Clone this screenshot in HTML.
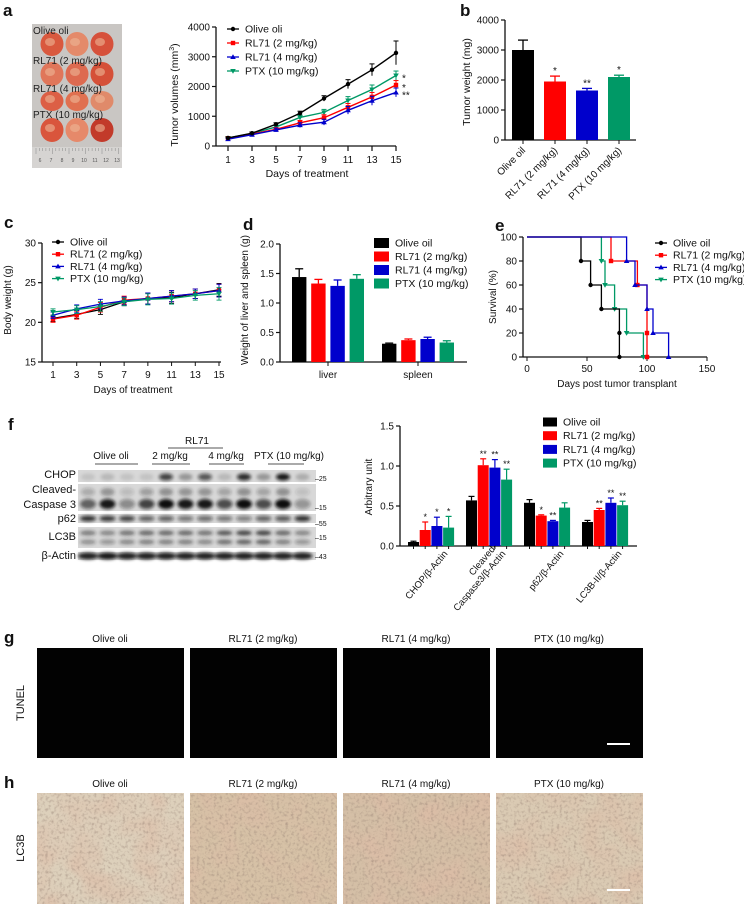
<!DOCTYPE html>
<html><head><meta charset="utf-8">
<style>
html,body{margin:0;padding:0;background:#fff;}
svg{display:block;font-family:"Liberation Sans",Arial,sans-serif;}
</style></head>
<body>
<svg id="fig" width="744" height="905" viewBox="0 0 744 905" xmlns="http://www.w3.org/2000/svg">
<defs>
<filter id="blur1" x="-20%" y="-50%" width="140%" height="200%"><feGaussianBlur stdDeviation="1.6"/></filter>
<filter id="tex" x="0" y="0" width="100%" height="100%">
<feTurbulence type="fractalNoise" baseFrequency="0.35" numOctaves="2" seed="4" result="n"/>
<feColorMatrix in="n" type="matrix" values="0 0 0 0 0.35  0 0 0 0 0.25  0 0 0 0 0.2  0 0 0 1.6 -0.75" result="dots"/>
<feTurbulence type="fractalNoise" baseFrequency="0.03" numOctaves="2" seed="9" result="m"/>
<feColorMatrix in="m" type="matrix" values="0 0 0 0 0.72  0 0 0 0 0.5  0 0 0 0 0.38  0 0 0 1.8 -0.7" result="patch"/>
<feMerge><feMergeNode in="SourceGraphic"/><feMergeNode in="patch"/><feMergeNode in="dots"/></feMerge>
</filter>
</defs>
<g id="root"></g>
</svg>
<script>
// ---------- DATA ----------
const groups = ["Olive oli","RL71 (2 mg/kg)","RL71 (4 mg/kg)","PTX (10 mg/kg)"];
const colors = ["#000000","#ff0000","#0000cc","#009966"];
// panel a
const aDays = [1,3,5,7,9,11,13,15];
const aOlive = [270,430,730,1100,1600,2080,2560,3130];
const aRL2 = [260,400,560,780,950,1300,1650,2050];
const aRL4 = [230,380,540,700,800,1200,1520,1800];
const aPTX = [270,420,640,960,1130,1530,1900,2370];
const aErrOlive = [30,40,50,70,90,150,200,400];
const aErrOther = [30,40,60,80,100,130,150,150];
const aYTicks = [0,1000,2000,3000,4000];
const aStars = ["*","*","**"];
// panel b
const bLabels = ["Olive oil","RL71 (2 mg/kg)","RL71 (4 mg/kg)","PTX (10 mg/kg)"];
const bValues = [3000,1950,1650,2100];
const bErr = [330,180,70,60];
const bStars = ["","*","**","*"];
const bYTicks = [0,1000,2000,3000,4000];
// panel c
const cDays = [1,3,5,7,9,11,13,15];
const cOlive = [20.5,21.0,21.6,22.6,23.0,23.1,23.6,24.1];
const cRL2 = [20.4,20.9,21.9,22.8,23.0,23.3,23.6,24.0];
const cRL4 = [20.9,21.7,22.3,22.7,23.0,23.3,23.6,24.0];
const cPTX = [21.3,21.6,22.0,22.6,22.9,23.0,23.4,23.6];
const cErr = [0.4,0.5,0.6,0.5,0.7,0.7,0.6,0.8];
const cYTicks = [15,20,25,30];
const cLegend = ["Olive oil","RL71 (2 mg/kg)","RL71 (4 mg/kg)","PTX (10 mg/kg)"];
// panel d
const dCats = ["liver","spleen"];
const dLiver = [1.44,1.33,1.29,1.41];
const dLiverErr = [0.14,0.07,0.10,0.07];
const dSpleen = [0.31,0.37,0.39,0.33];
const dSpleenErr = [0.01,0.02,0.03,0.03];
const dYTicks = [0.0,0.5,1.0,1.5,2.0];
const dLegend = ["Olive oil","RL71 (2 mg/kg)","RL71 (4 mg/kg)","PTX  (10 mg/kg)"];
// panel e
const eOliveT = [45,53,62,77,77];
const eOliveS = [80,60,40,20,0];
const eRL2T = [70,92,100,100];
const eRL2S = [80,60,20,0];
const eRL4T = [83,90,100,105,118];
const eRL4S = [80,60,40,20,0];
const ePTXT = [62,65,73,83,97];
const ePTXS = [80,60,40,20,0];
const eXTicks = [0,50,100,150];
const eYTicks = [0,20,40,60,80,100];
// panel f bars
const fCats = ["CHOP/β-Actin","Cleaved-|Caspase3/β-Actin","p62/β-Actin","LC3B-II/β-Actin"];
const fOlive = [0.05,0.57,0.54,0.30];
const fRL2 = [0.20,1.01,0.38,0.45];
const fRL4 = [0.25,0.98,0.31,0.54];
const fPTX = [0.23,0.83,0.48,0.51];
const fErrOlive = [0.01,0.05,0.04,0.02];
const fErrRL2 = [0.10,0.08,0.01,0.02];
const fErrRL4 = [0.11,0.10,0.01,0.06];
const fErrPTX = [0.14,0.13,0.06,0.05];
const fStarsRL2 = ["*","**","*","**"];
const fStarsRL4 = ["*","**","**","**"];
const fStarsPTX = ["*","**","","**"];
const fYTicks = [0.0,0.5,1.0,1.5];
const fLegend = ["Olive oil","RL71 (2 mg/kg)","RL71 (4 mg/kg)","PTX  (10 mg/kg)"];

// ---------- helpers ----------
const NS = "http://www.w3.org/2000/svg";
const root = document.getElementById("root");
function mk(tag, attrs, parent){
  const e = document.createElementNS(NS, tag);
  for (const k in attrs) e.setAttribute(k, attrs[k]);
  (parent||root).appendChild(e);
  return e;
}
function txt(s, x, y, size, anchor, parent, extra){
  const e = mk("text", Object.assign({x:x, y:y, "font-size":size, "text-anchor":anchor||"start", fill:"#111"}, extra||{}), parent);
  e.textContent = s;
  return e;
}
function lin(d0,d1,r0,r1){ return v => r0 + (v-d0)/(d1-d0)*(r1-r0); }
function panelLabel(s,x,y){
  const e = txt(s,x,y,17,"start",root,{"font-weight":"bold"});
  
  
}
function yAxis(g, x, y, ticks, fmt){
  const ax = mk("line",{x1:x,y1:y(ticks[0]),x2:x,y2:y(ticks[ticks.length-1]),stroke:"#111","stroke-width":1.3},g);
  
  
  ticks.forEach(t=>{
    mk("line",{x1:x-4,y1:y(t),x2:x,y2:y(t),stroke:"#111","stroke-width":1.2},g);
    const l = txt(fmt(t), x-6, y(t)+3.5, 10, "end", g);
    
    
  });
}
function marker(g, x, y, col, k){
  let e;
  if (k===0) e = mk("circle",{cx:x,cy:y,r:2.2,fill:col},g);
  else if (k===1) e = mk("rect",{x:x-2.2,y:y-2.2,width:4.4,height:4.4,fill:col},g);
  else if (k===2) e = mk("path",{d:`M${x},${y-2.8}L${x+2.8},${y+2}L${x-2.8},${y+2}Z`,fill:col},g);
  else e = mk("path",{d:`M${x},${y+2.8}L${x+2.8},${y-2}L${x-2.8},${y-2}Z`,fill:col},g);
  return e;
}
function lineLegend(g, x, y0, dy, labels){
  labels.forEach((s,i)=>{
    const y = y0 + i*dy;
    mk("line",{x1:x,y1:y,x2:x+12,y2:y,stroke:colors[i],"stroke-width":1.3},g);
    const m = marker(g, x+6, y, colors[i], i);
    
    
    const t = txt(s, x+18, y+3.5, 10.5, "start", g);
    
    
  });
}
function boxLegend(g, x, y0, dy, labels, w, h, fs){
  labels.forEach((s,i)=>{
    const y = y0 + i*dy;
    const r = mk("rect",{x:x,y:y-h/2,width:w,height:h,fill:colors[i]},g);
    
    
    const t = txt(s, x+w+6, y+3.5, fs, "start", g);
    
    
  });
}

// ---------- Panel a ----------
panelLabel("a",3,16);
(function(){
  const g = mk("g",{});
  
  
  mk("rect",{x:32,y:24,width:90,height:144,fill:"#c9c6c3"},g);
  mk("rect",{x:32,y:147,width:90,height:21,fill:"#d6d4d2"},g);
  for(let i=0;i<26;i++){ mk("line",{x1:36+i*3.3,y1:148,x2:36+i*3.3,y2:i%5===0?154:151,stroke:"#888","stroke-width":0.5},g); }
  ["6","7","8","9","10","11","12","13"].forEach((s,i)=>{ txt(s,40+i*11,162,5,"middle",g,{fill:"#555"}); });
  const rows=[[30,"Olive oli",44],[60,"RL71 (2 mg/kg)",74],[88,"RL71 (4 mg/kg)",101],[114,"PTX (10 mg/kg)",130]];
  const tone=[["#d9593e","#e48a6a","#d6513b"],["#e0765a","#dd6a50","#d55038"],["#dc5f45","#e07050","#e08a6a"],["#d9553c","#e6896a","#c23a2a"]];
  rows.forEach((r,ri)=>{
    [52,77,102].forEach((cx,ci)=>{
      mk("ellipse",{cx:cx,cy:r[2],rx:11.5,ry:ri===2?10:12,fill:tone[ri][ci]},g);
      mk("ellipse",{cx:cx-2,cy:r[2]-2,rx:5,ry:4,fill:"#ecb596",opacity:0.6},g);
    });
    const t = txt(r[1],33,r[0]+4,10,"start",g,{fill:"#222"});
    
    
  });
})();
(function(){
  const g = mk("g",{});
  
  
  const x = lin(1,15,228,396), y = lin(0,4000,146,27);
  yAxis(g,216,y,aYTicks,v=>String(v));
  const xa = mk("line",{x1:216,y1:146,x2:396,y2:146,stroke:"#111","stroke-width":1.3},g);
  
  
  aDays.forEach(d=>{
    mk("line",{x1:x(d),y1:146,x2:x(d),y2:151,stroke:"#111","stroke-width":1.2},g);
    const l = txt(String(d),x(d),163,10,"middle",g);
    
    
  });
  const xt = txt("Days of treatment",307,177,10.5,"middle",g);
  
  
  const yt = txt("Tumor volumes (mm",0,0,10.5,"middle",g,{transform:"translate(178,95) rotate(-90)"});
  const sup = mk("tspan",{"font-size":7,dy:-4},yt); sup.textContent="3";
  const cl = mk("tspan",{dy:4},yt); cl.textContent=")";
  
  
  const series=[aOlive,aRL2,aRL4,aPTX];
  const errs=[aErrOlive,aErrOther,aErrOther,aErrOther];
  [3,1,2,0].forEach(k=>{
    const s=series[k];
    const p = mk("polyline",{points:aDays.map((d,i)=>x(d)+","+y(s[i])).join(" "),fill:"none",stroke:colors[k],"stroke-width":1.4},g);
    
    
    aDays.forEach((d,i)=>{
      const e=errs[k][i];
      mk("line",{x1:x(d),y1:y(s[i]-e),x2:x(d),y2:y(s[i]+e),stroke:colors[k],"stroke-width":1},g);
      mk("line",{x1:x(d)-2.5,y1:y(s[i]+e),x2:x(d)+2.5,y2:y(s[i]+e),stroke:colors[k],"stroke-width":1},g);
      const m = marker(g,x(d),y(s[i]),colors[k],k);
      
      
    });
  });
  [aPTX,aRL2,aRL4].forEach((s,i)=>{
    const st = txt(aStars[i],402,y(s[7])+6,10,"start",g);
    
    
  });
  lineLegend(g,227,29,14,groups);
})();

// ---------- Panel b ----------
panelLabel("b",460,16);
(function(){
  const g = mk("g",{});
  
  
  const y = lin(0,4000,140,20);
  yAxis(g,505,y,bYTicks,v=>String(v));
  const xa = mk("line",{x1:505,y1:140,x2:636,y2:140,stroke:"#111","stroke-width":1.3},g);
  
  
  const yt = txt("Tumor weight (mg)",0,0,10.5,"middle",g,{transform:"translate(470,82) rotate(-90)"});
  
  
  bValues.forEach((v,i)=>{
    const bx = 512 + i*32, cx = bx+11;
    mk("line",{x1:cx,y1:y(v),x2:cx,y2:y(v+bErr[i]),stroke:colors[i],"stroke-width":1.3},g);
    mk("line",{x1:cx-5,y1:y(v+bErr[i]),x2:cx+5,y2:y(v+bErr[i]),stroke:colors[i],"stroke-width":1.3},g);
    const r = mk("rect",{x:bx,y:y(v),width:22,height:140-y(v),fill:colors[i]},g);
    
    
    mk("line",{x1:cx,y1:140,x2:cx,y2:144,stroke:"#111"},g);
    if (bStars[i]){ const s=txt(bStars[i],cx,y(v+bErr[i])-2,10,"middle",g);   }
    const l = txt(bLabels[i],cx+3,151,10,"end",g,{transform:`rotate(-45 ${cx+3} 151)`});
    
    
  });
})();

// ---------- Panel c ----------
panelLabel("c",4,228);
(function(){
  const g = mk("g",{});
  
  
  const x = lin(1,15,53,219), y = lin(15,30,362,243);
  yAxis(g,42,y,cYTicks,v=>String(v));
  const xa = mk("line",{x1:42,y1:362,x2:221,y2:362,stroke:"#111","stroke-width":1.3},g);
  
  
  cDays.forEach(d=>{
    mk("line",{x1:x(d),y1:362,x2:x(d),y2:366,stroke:"#111"},g);
    const l = txt(String(d),x(d),378,10,"middle",g);
    
    
  });
  const xt = txt("Days of treatment",133,393,10,"middle",g);
  
  
  const yt = txt("Body weight (g)",0,0,10,"middle",g,{transform:"translate(11,300) rotate(-90)"});
  
  
  [cOlive,cRL2,cRL4,cPTX].forEach((s,k)=>{
    const p = mk("polyline",{points:cDays.map((d,i)=>x(d)+","+y(s[i])).join(" "),fill:"none",stroke:colors[k],"stroke-width":1.3},g);
    
    
    cDays.forEach((d,i)=>{
      mk("line",{x1:x(d),y1:y(s[i]-cErr[i]),x2:x(d),y2:y(s[i]+cErr[i]),stroke:colors[k],"stroke-width":0.9},g);
      mk("line",{x1:x(d)-2.5,y1:y(s[i]+cErr[i]),x2:x(d)+2.5,y2:y(s[i]+cErr[i]),stroke:colors[k],"stroke-width":0.9},g);
      mk("line",{x1:x(d)-2.5,y1:y(s[i]-cErr[i]),x2:x(d)+2.5,y2:y(s[i]-cErr[i]),stroke:colors[k],"stroke-width":0.9},g);
      const m = marker(g,x(d),y(s[i]),colors[k],k);
      
      
    });
  });
  lineLegend(g,52,242,12.2,cLegend);
})();

// ---------- Panel d ----------
panelLabel("d",243,230);
(function(){
  const g = mk("g",{});
  
  
  const y = lin(0,2,362,244);
  yAxis(g,280,y,dYTicks,v=>v.toFixed(1));
  const xa = mk("line",{x1:280,y1:362,x2:467,y2:362,stroke:"#111","stroke-width":1.3},g);
  
  
  const yt = txt("Weight of liver and spleen (g)",0,0,10,"middle",g,{transform:"translate(248,300) rotate(-90)"});
  
  
  [[dLiver,dLiverErr,292],[dSpleen,dSpleenErr,382]].forEach((grp,gi)=>{
    grp[0].forEach((v,i)=>{
      const bx = grp[2]+i*19.2, cx=bx+7.2;
      mk("line",{x1:cx,y1:y(v),x2:cx,y2:y(v+grp[1][i]),stroke:colors[i],"stroke-width":1.3},g);
      mk("line",{x1:cx-4,y1:y(v+grp[1][i]),x2:cx+4,y2:y(v+grp[1][i]),stroke:colors[i],"stroke-width":1.3},g);
      const r = mk("rect",{x:bx,y:y(v),width:14.4,height:362-y(v),fill:colors[i]},g);
      
      
    });
    mk("line",{x1:grp[2]+36,y1:362,x2:grp[2]+36,y2:366,stroke:"#111"},g);
    const l = txt(dCats[gi],grp[2]+36,378,10,"middle",g);
    
    
  });
  boxLegend(g,374,243,13.5,dLegend,15,10,10.5);
})();

// ---------- Panel e ----------
panelLabel("e",495,231);
(function(){
  const g = mk("g",{});
  
  
  const x = lin(0,150,527,707), y = lin(0,100,357,237);
  yAxis(g,523,y,eYTicks,v=>String(v));
  const xa = mk("line",{x1:523,y1:357,x2:707,y2:357,stroke:"#111","stroke-width":1.3},g);
  
  
  eXTicks.forEach(t=>{
    mk("line",{x1:x(t),y1:357,x2:x(t),y2:361,stroke:"#111"},g);
    const l = txt(String(t),x(t),372,10,"middle",g);
    
    
  });
  const xt = txt("Days post tumor transplant",617,387,10,"middle",g);
  
  
  const yt = txt("Survival (%)",0,0,10,"middle",g,{transform:"translate(496,297) rotate(-90)"});
  
  
  [[ePTXT,ePTXS],[eOliveT,eOliveS],[eRL2T,eRL2S],[eRL4T,eRL4S]].forEach((sv,j)=>{
    const k=[3,0,1,2][j];
    let d=`M${x(0)},${y(100)}`; let prev=100;
    sv[0].forEach((t,i)=>{ d+=`L${x(t)},${y(prev)}L${x(t)},${y(sv[1][i])}`; prev=sv[1][i]; });
    const p = mk("path",{d:d,fill:"none",stroke:colors[k],"stroke-width":1.3},g);
    
    
    sv[0].forEach((t,i)=>{
      const m = marker(g,x(t),y(sv[1][i]),colors[k],k);
      
      
    });
  });
  lineLegend(g,655,243,12.2,cLegend);
})();

// ---------- Panel f blot ----------
panelLabel("f",8,430);
(function(){
  const g = mk("g",{});
  
  
  const rows=[["CHOP",470,482],["Cleaved-Caspase 3",484,511],["p62",514,523],["LC3B",527,548],["β-Actin",552,560]];
  const bands={
    CHOP:[.1,.15,.1,.1,.75,.3,.65,.15,.85,.3,.95,.2],
    cc3:[.6,.95,.4,.75,1,.95,.95,.7,1,.7,1,.35],
    p62:[.85,.8,.75,.6,.6,.5,.55,.5,.45,.6,.65,.85],
    lc3:[.5,.45,.55,.6,.6,.6,.55,.7,.8,.8,.6,.45],
    act:[.9,.95,.9,.9,.9,.9,.9,.9,.9,.9,.9,.9]
  };
  rows.forEach(r=>{ const bg=mk("rect",{x:78,y:r[1],width:238,height:r[2]-r[1],fill:"#d8d8d8"},g);   });
  const lx=i=>88+i*19.5;
  const bg2=mk("g",{filter:"url(#blur1)"},g);
  bands.CHOP.forEach((v,i)=>mk("ellipse",{cx:lx(i),cy:477,rx:7,ry:3.5,fill:"#111",opacity:v},bg2));
  bands.cc3.forEach((v,i)=>{mk("ellipse",{cx:lx(i),cy:504,rx:8,ry:5,fill:"#111",opacity:v},bg2); mk("ellipse",{cx:lx(i),cy:492,rx:7,ry:4,fill:"#222",opacity:v*0.4},bg2);});
  bands.p62.forEach((v,i)=>mk("ellipse",{cx:lx(i),cy:518.5,rx:8,ry:2.8,fill:"#111",opacity:v},bg2));
  bands.lc3.forEach((v,i)=>{mk("ellipse",{cx:lx(i),cy:533,rx:8,ry:2.5,fill:"#222",opacity:v},bg2); mk("ellipse",{cx:lx(i),cy:542,rx:8,ry:2.5,fill:"#222",opacity:v*0.8},bg2);});
  bands.act.forEach((v,i)=>mk("ellipse",{cx:lx(i),cy:556,rx:10,ry:3.5,fill:"#111",opacity:v},bg2));
  [["CHOP",478],["Cleaved-",493],["Caspase 3",508],["p62",522],["LC3B",540],["β-Actin",559]].forEach(l=>{
    const t=txt(l[0],76,l[1],11,"end",g);  
  });
  [["25",481],["15",510],["55",526],["15",540],["43",559]].forEach(l=>{
    const t=txt("–"+l[0],315,l[1],7,"start",g);  
  });
  const h=txt("RL71",197,444,10,"middle",g);  
  mk("line",{x1:168,y1:448,x2:223,y2:448,stroke:"#777","stroke-width":1.2},g);
  [["Olive oli",111,95,138],["2 mg/kg",170,152,190],["4 mg/kg",226,209,244],["PTX (10 mg/kg)",289,268,304]].forEach(l=>{
    const t=txt(l[0],l[1],459,10,"middle",g);  
    mk("line",{x1:l[2],y1:464,x2:l[3],y2:464,stroke:"#777","stroke-width":1.2},g);
  });
})();

// ---------- Panel f bars ----------
(function(){
  const g = mk("g",{});
  
  
  const y = lin(0,1.5,546,426);
  yAxis(g,400,y,fYTicks,v=>v.toFixed(1));
  const xa = mk("line",{x1:400,y1:546,x2:637,y2:546,stroke:"#111","stroke-width":1.3},g);
  
  
  const yt = txt("Arbitrary unit",0,0,10,"middle",g,{transform:"translate(372,487) rotate(-90)"});
  
  
  const series=[fOlive,fRL2,fRL4,fPTX], errs=[fErrOlive,fErrRL2,fErrRL4,fErrPTX], stars=[null,fStarsRL2,fStarsRL4,fStarsPTX];
  fCats.forEach((c,ci)=>{
    const gx = 408 + ci*58;
    series.forEach((s,k)=>{
      const bx=gx+k*11.7, cx=bx+5.5, v=s[ci], e=errs[k][ci];
      mk("line",{x1:cx,y1:y(v),x2:cx,y2:y(v+e),stroke:colors[k],"stroke-width":1.2},g);
      mk("line",{x1:cx-3,y1:y(v+e),x2:cx+3,y2:y(v+e),stroke:colors[k],"stroke-width":1.2},g);
      const r=mk("rect",{x:bx,y:y(v),width:11,height:546-y(v),fill:colors[k]},g);
      
      
      mk("line",{x1:cx,y1:546,x2:cx,y2:549,stroke:"#111"},g);
      if (stars[k] && stars[k][ci]){ const st=txt(stars[k][ci],cx,y(v+e)-2,9,"middle",g);   }
    });
    const parts=c.split("|"); const ax=gx+40, ay=554;
    const l=txt("",ax,ay,9.5,"end",g,{transform:`rotate(-50 ${ax} ${ay})`});
    parts.forEach((p,pi)=>{ const ts=mk("tspan",{x:ax,dy:pi===0?(parts.length>1?-11:0):11},l); ts.textContent=p; });
    
    
  });
  boxLegend(g,543,422,13.7,fLegend,14,9,10.5);
})();

// ---------- Panels g, h ----------
panelLabel("g",4,643);
panelLabel("h",4,788);
(function(){
  const xs=[37,190,343,496];
  const ty=txt("TUNEL",0,0,11,"middle",root,{transform:"translate(24,703) rotate(-90)"});
   
  const ly=txt("LC3B",0,0,11,"middle",root,{transform:"translate(24,848) rotate(-90)"});
   
  groups.forEach((gname,i)=>{
    const t1=txt(gname,xs[i]+73,642,10,"middle");  
    const r1=mk("rect",{x:xs[i],y:648,width:147,height:110,fill:"#020202"});  
    const t2=txt(gname,xs[i]+73,787,10,"middle");  
    const base=["#ddd0bb","#d6c1a6","#d4bfa6","#dacab3"][i];
    const r2=mk("rect",{x:xs[i],y:793,width:147,height:111,fill:base,filter:"url(#tex)"});  
  });
  const sb1=mk("line",{x1:607,y1:744,x2:630,y2:744,stroke:"#fff","stroke-width":2});  
  const sb2=mk("line",{x1:607,y1:890,x2:630,y2:890,stroke:"#fff","stroke-width":2});  
})();
</script>
</body></html>
